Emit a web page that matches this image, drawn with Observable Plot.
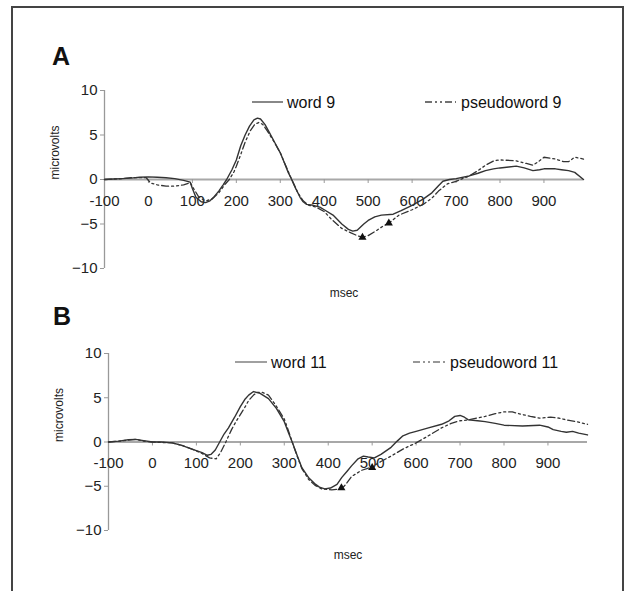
<!DOCTYPE html>
<html><head><meta charset="utf-8">
<script src="https://cdn.jsdelivr.net/npm/d3@7"></script>
<script src="https://cdn.jsdelivr.net/npm/@observablehq/plot@0.6"></script>
<style>
html,body{margin:0;padding:0;background:#fff;overflow:hidden;}
#root{position:relative;width:628px;height:591px;font-family:"Liberation Sans",Arial,sans-serif;background:#fff;}
#frame{position:absolute;left:11px;top:6px;width:613px;height:600px;border:2px solid #444;box-sizing:border-box;z-index:5;pointer-events:none;}
.panel{position:absolute;left:0;}
#overlay{position:absolute;left:0;top:0;z-index:4;}
</style></head>
<body><div id="root"><div id="frame"></div></div>
<script>
// ---- data ----
const ticksX = [-100, 0, 100, 200, 300, 400, 500, 600, 700, 800, 900];
const ticksY = [-10, -5, 0, 5, 10];

// Panel A: word 9 (solid)
const tWordA = [-100,-80,-60,-40,-20,0,20,40,60,80,95,100,108,120,130,140,150,160,170,178,190,200,210,220,230,240,248,255,265,275,288,300,310,318,326,335,345,352,360,375,390,400,420,440,455,465,475,490,500,515,530,557,575,600,625,645,660,670,685,700,730,750,767,785,800,820,837,855,875,890,900,915,926,940,956,970,990];
const vWordA = [0,0.05,0.1,0.15,0.25,0.3,0.25,0.2,0.1,-0.1,-0.3,-1.0,-2.0,-2.5,-2.6,-2.4,-1.9,-1.3,-0.6,0,1.1,2.2,3.8,5.0,6.0,6.7,6.9,6.8,6.2,5.3,4.1,3.0,1.8,0.8,0,-1.0,-2.0,-2.5,-2.8,-2.9,-3.1,-3.4,-4.0,-5.0,-5.6,-5.8,-5.7,-5.0,-4.6,-4.2,-4.0,-3.9,-3.5,-2.9,-2.2,-1.5,-0.7,-0.2,0,0.1,0.4,0.7,1.0,1.2,1.3,1.4,1.5,1.3,1.0,1.1,1.2,1.2,1.2,1.1,1.0,0.8,0.0];
// Panel A: pseudoword 9 (dash-dot)
const tPseudoA = [-100,-80,-60,-40,-20,-5,5,20,40,60,80,95,105,115,130,145,160,175,184,195,200,210,220,232,242,251,260,270,285,300,312,326,340,352,365,381,400,415,440,461,475,487,500,517,535,547,570,600,625,645,660,680,700,715,730,750,767,786,800,837,860,875,890,900,926,945,956,970,990];
const vPseudoA = [0,0.05,0.1,0.2,0.2,0.2,-0.4,-0.6,-0.75,-0.75,-0.6,-0.35,-1.2,-2.0,-2.4,-2.2,-1.5,-0.5,0,0.9,1.5,2.8,4.2,5.5,6.2,6.4,6.2,5.5,4.3,3.0,1.6,0,-1.5,-2.4,-2.9,-3.1,-3.6,-4.4,-5.5,-6.0,-6.3,-6.5,-6.3,-5.8,-5.2,-4.9,-4.0,-3.4,-2.8,-2.1,-1.3,-0.5,-0.2,0.1,0.4,1.0,1.6,2.1,2.2,2.1,1.8,1.6,2.1,2.5,2.3,2.0,2.0,2.5,2.3];
const tTriA = [487, 547];
const vTriA = [-6.5, -4.9];

// Panel B: word 11 (solid)
const tWordB = [-100,-76,-55,-38,-20,0,20,45,68,90,113,125,133,143,153,163,173,187,200,210,219,230,245,264,282,300,310,318,330,340,355,369,380,392,405,420,431,443,453,468,480,491,505,520,543,557,570,585,600,628,658,675,688,700,710,719,740,757,780,800,842,881,900,912,930,942,956,970,990];
const vWordB = [0,0.1,0.25,0.3,0.15,0,0,-0.1,-0.4,-0.8,-1.2,-1.5,-1.4,-0.9,0,0.9,1.6,2.8,4.0,4.8,5.3,5.7,5.5,4.9,3.8,2.3,1.0,0,-1.6,-2.9,-4.0,-4.7,-5.1,-5.3,-5.2,-4.8,-4.0,-3.3,-2.7,-1.9,-1.6,-1.7,-1.8,-1.4,-0.6,0.1,0.7,1.0,1.2,1.6,2.0,2.4,2.9,3.0,2.8,2.5,2.4,2.3,2.1,1.9,1.8,1.9,1.7,1.4,1.2,1.1,1.2,1.0,0.8];
// Panel B: pseudoword 11 (dash-dot)
const tPseudoB = [-100,-76,-55,-38,-20,0,20,45,68,90,113,130,145,155,167,180,190,200,210,219,230,238,250,264,280,300,310,318,330,340,355,370,385,408,430,440,453,476,500,520,543,570,600,628,658,680,700,719,757,780,800,819,842,860,881,906,925,942,965,990];
const vPseudoB = [0,0.1,0.2,0.3,0.1,0,-0.05,-0.1,-0.4,-0.8,-1.3,-1.8,-1.9,-1.2,0,1.4,2.3,3.1,3.9,4.7,5.3,5.6,5.6,5.3,4.2,2.6,1.2,0,-1.7,-3.0,-4.2,-4.9,-5.3,-5.4,-5.3,-4.8,-3.9,-3.2,-2.8,-2.2,-1.6,-0.8,-0.1,0.7,1.6,2.1,2.4,2.5,2.9,3.2,3.4,3.4,3.1,2.9,2.7,2.8,2.7,2.5,2.3,2.0];
const tTriB = [430, 500];
const vTriB = [-5.2, -2.9];

const legendA = ["word 9", "pseudoword 9"];
const legendB = ["word 11", "pseudoword 11"];
const panelLetters = ["A", "B"];

// ---- build ----
const zipTV = (t, v) => t.map((x, i) => ({t: x, v: v[i]}));
const FONT = "Liberation Sans, Arial, sans-serif";
const DASH = "7,3,2,3,2,3";

function panel(opts) {
  const {word, pseudo, tri, height, mL, mR, mT, mB, top} = opts;
  const svg = Plot.plot({
    width: 628, height,
    marginLeft: mL, marginRight: mR, marginTop: mT, marginBottom: mB,
    x: {domain: [-100, 990], axis: null},
    y: {domain: [-10, 10], axis: null},
    style: {fontFamily: FONT, background: "transparent", overflow: "visible", color: "#222"},
    marks: [
      Plot.ruleY([0], {stroke: "#a8a8a8", strokeWidth: 2}),
      Plot.ruleX([-100], {y1: -10, y2: 10, stroke: "#999", strokeWidth: 1.3}),
      Plot.axisY(ticksY, {anchor: "left", tickSize: 4, tickPadding: 3, fontSize: 15, stroke: "#999", fill: "#222", label: null}),
      Plot.ruleX(ticksX, {x: d => d, y1: 0, y2: -0.45, stroke: "#999", strokeWidth: 1}),
      Plot.text(ticksX, {x: d => d, y: 0, dy: 21.5, text: d => String(d), fontSize: 15, fill: "#222"}),
      Plot.line(pseudo, {x: "t", y: "v", stroke: "#333", strokeWidth: 1.3, strokeDasharray: DASH}),
      Plot.line(word, {x: "t", y: "v", stroke: "#333", strokeWidth: 1.4}),
      Plot.dot(tri, {x: "t", y: "v", symbol: "triangle", fill: "#111", stroke: null, r: 3}),
      Plot.text(["microvolts"], {frameAnchor: "left", dx: -49, rotate: -90, text: d => d, fontSize: 12, fill: "#222"}),
      Plot.text(["msec"], {frameAnchor: "bottom", dy: 28, text: d => d, fontSize: 12, fill: "#222"})
    ]
  });
  svg.classList.add("panel");
  svg.style.top = top + "px";
  svg.style.maxWidth = "none";
  return svg;
}

const root = document.getElementById("root");
root.appendChild(panel({word: zipTV(tWordA, vWordA), pseudo: zipTV(tPseudoA, vPseudoA), tri: zipTV(tTriA, vTriA),
  height: 300, mL: 104, mR: 45, mT: 90, mB: 32, top: 0}));
root.appendChild(panel({word: zipTV(tWordB, vWordB), pseudo: zipTV(tPseudoB, vPseudoB), tri: zipTV(tTriB, vTriB),
  height: 291, mL: 108, mR: 41, mT: 53, mB: 61, top: 300}));

// overlay: panel letters and legends
const ns = "http://www.w3.org/2000/svg";
const ov = document.createElementNS(ns, "svg");
ov.setAttribute("id", "overlay");
ov.setAttribute("width", 628); ov.setAttribute("height", 591);
ov.style.fontFamily = FONT;
function txt(x, y, s, size, weight) {
  const t = document.createElementNS(ns, "text");
  t.setAttribute("x", x); t.setAttribute("y", y);
  t.setAttribute("font-size", size); t.setAttribute("fill", "#111");
  if (weight) t.setAttribute("font-weight", weight);
  t.textContent = s; ov.appendChild(t);
}
function ln(x1, x2, y, dash, color) {
  const l = document.createElementNS(ns, "line");
  l.setAttribute("x1", x1); l.setAttribute("x2", x2);
  l.setAttribute("y1", y); l.setAttribute("y2", y);
  l.setAttribute("stroke", color); l.setAttribute("stroke-width", 1.4);
  if (dash) l.setAttribute("stroke-dasharray", dash);
  ov.appendChild(l);
}
txt(52, 65, panelLetters[0], 25, "bold");
txt(53, 325, panelLetters[1], 25, "bold");
ln(252, 283, 102, null, "#555"); txt(287, 107.5, legendA[0], 16);
ln(425, 456, 102, DASH, "#444"); txt(461, 107.5, legendA[1], 16);
ln(235, 267, 362, null, "#777"); txt(271, 367.5, legendB[0], 16);
ln(413, 448, 362, DASH, "#777"); txt(450, 367.5, legendB[1], 16);
root.appendChild(ov);
</script>
</body></html>
